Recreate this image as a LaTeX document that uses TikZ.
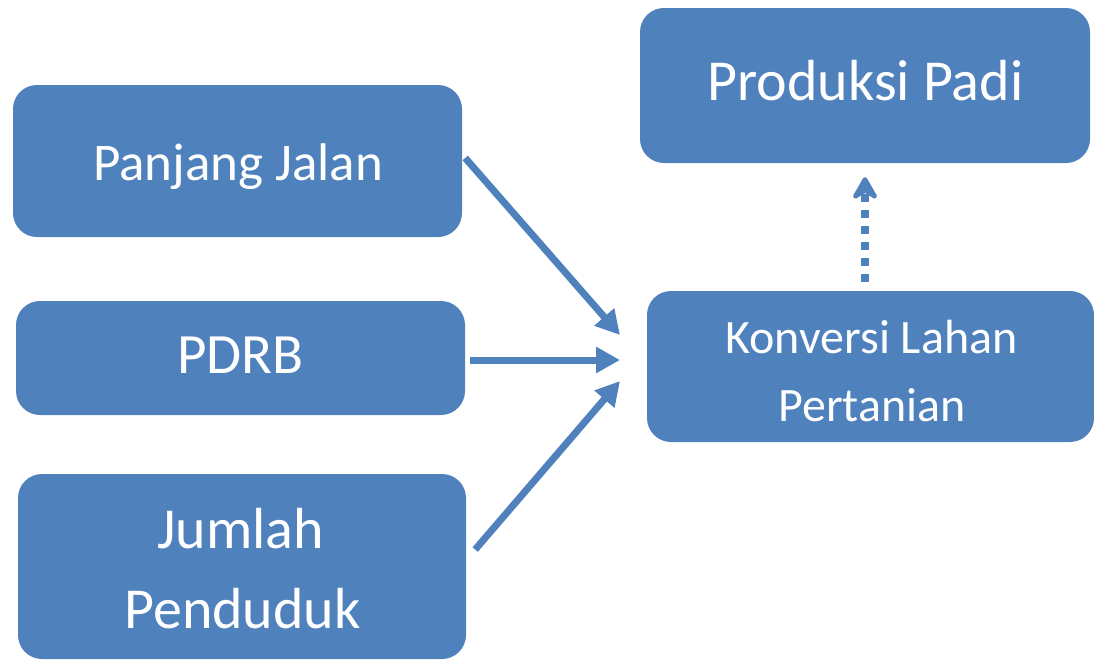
\documentclass[tikz,border=0pt]{standalone}
\usepackage{fontspec}
\setmainfont{Carlito}
\usetikzlibrary{arrows.meta,calc}
\definecolor{boxblue}{HTML}{4F81BD}
\begin{document}
\begin{tikzpicture}[x=1pt,y=-1pt,
  box/.style={draw=none,fill=boxblue,rounded corners=24pt,inner sep=0pt},
  lbl/.style={text=white,inner sep=0pt,anchor=base},
  conn/.style={draw=boxblue,line width=7pt,-{Triangle[length=24pt,width=25pt]}},
  dotconn/.style={draw=boxblue,line width=8pt,dash pattern=on 8pt off 8pt,-{Stealth[round,length=28pt,width=32pt,inset=10pt]}}]
\useasboundingbox (0,0) rectangle (1094,659);
\node[box,minimum width=449pt,minimum height=152pt] (pj) at (237.5,161) {};
\node[box,minimum width=449pt,minimum height=114pt] (pdrb) at (240.5,358) {};
\node[box,minimum width=448pt,minimum height=185pt] (jp) at (242,566.5) {};
\node[box,minimum width=450pt,minimum height=155pt] (pp) at (865,85.5) {};
\node[box,minimum width=447pt,minimum height=151pt] (kl) at (870.5,366.5) {};
\node[lbl,font=\fontsize{53}{60}\selectfont] (pjt) at (238,180) {Panjang Jalan};
\node[lbl,font=\fontsize{57}{60}\selectfont] (pdrbt) at (240.5,373) {PDRB};
\node[lbl,font=\fontsize{58}{60}\selectfont] (jpt1) at (240.5,548) {Jumlah};
\node[lbl,font=\fontsize{58}{60}\selectfont] (jpt2) at (242.5,628) {Penduduk};
\node[lbl,font=\fontsize{58}{60}\selectfont] (ppt) at (865.5,100) {Produksi Padi};
\node[lbl,font=\fontsize{48}{60}\selectfont] (klt1) at (871.5,353) {Konversi Lahan};
\node[lbl,font=\fontsize{48}{60}\selectfont] (klt2) at (872,421) {Pertanian};
\coordinate (t1) at (620,335);
\coordinate (t2) at (620,360);
\coordinate (t3) at (620,381);
\draw[conn] ($(pj.east)+(3,-3)$) -- (t1);
\draw[conn] ($(pdrb.east)+(5,2)$) -- (t2);
\draw[conn] ($(jp.east)+(9,-17)$) -- (t3);
\draw[dotconn] ($(kl.north)+(-5.5,-9)$) -- ($(pp.south)+(0,14)$);
\end{tikzpicture}
\end{document}
